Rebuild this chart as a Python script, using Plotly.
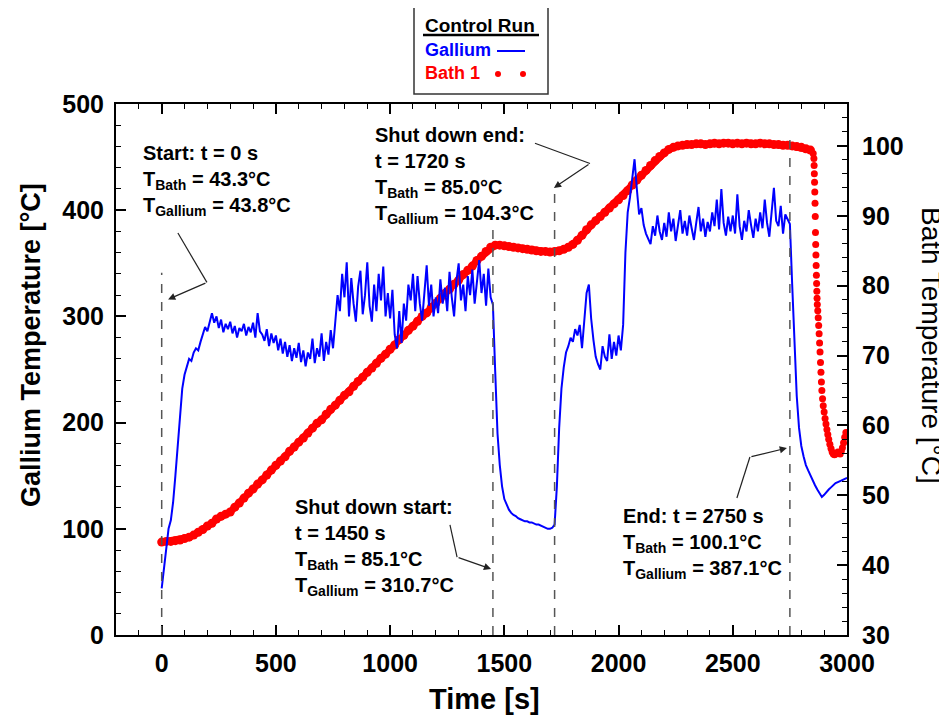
import plotly.graph_objects as go

# ---------------- data ----------------
gallium_time = list(range(0, 3001, 10))
gallium_temp = [
    43.8, 62, 85, 100, 108, 125, 150, 180, 210, 232,
    245, 252, 260, 258, 266, 270, 268, 276, 282, 290,
    286, 296, 303, 294, 300, 289, 297, 285, 293, 288,
    295, 284, 291, 280, 289, 286, 293, 282, 290, 285,
    294, 280, 303, 286, 283, 277, 288, 272, 284, 275,
    282, 268, 279, 265, 276, 262, 273, 258, 270, 261,
    275, 257, 268, 253, 266, 260, 279, 256, 270, 262,
    284, 258, 276, 264, 287, 270, 296, 320, 305, 340,
    318, 351, 300, 336, 312, 295, 328, 343, 302, 320,
    351, 310, 295, 330, 305, 340, 315, 347, 300, 322,
    298, 325, 283, 270, 305, 275, 312, 296, 330, 315,
    340, 305, 338, 312, 296, 322, 348, 310, 330, 300,
    318, 303, 335, 312, 327, 305, 342, 318, 300, 333,
    350, 315, 330, 305, 338, 320, 344, 312, 330, 353,
    322, 340, 310, 345, 318, 311, 248, 190, 160, 140,
    128, 122, 118, 115, 113, 112, 110, 109, 108, 107,
    107, 106, 106, 105, 104, 104, 103, 102, 101, 100,
    100, 101, 104, 140, 195, 232, 252, 266, 272, 280,
    276, 288, 282, 292, 270, 300, 322, 330, 298, 278,
    262, 255, 250, 272, 262, 258, 283, 260, 276, 263,
    282, 268, 292, 360, 398, 412, 430, 448, 420, 396,
    402, 386, 378, 372, 368, 385, 376, 395, 380, 372,
    388, 375, 398, 380, 392, 371, 386, 400, 378, 390,
    376, 395, 383, 372, 388, 403, 380, 392, 375, 389,
    380, 398, 385, 410, 382, 420, 388, 376, 394, 380,
    395, 378, 415, 385, 372, 390, 380, 400, 386, 374,
    392, 380, 398, 383, 410, 388, 375, 402, 421, 390,
    385, 404, 378, 396, 392, 387, 330, 270, 225, 195,
    178, 168, 160, 155, 150, 145, 141, 137, 133, 130,
    132, 135, 137, 139, 141, 143, 144, 145, 146, 147,
    148,
]

# bath: steady part (dense band) and the fast drop at the end (separate dots)
bath_time = list(range(0, 2841, 20))
bath_temp = [
    43.3, 43.4, 43.4, 43.5, 43.6, 43.8, 44.0, 44.3, 44.7, 45.1,
    45.6, 46.0, 46.6, 47.0, 47.3,
    47.6, 48.3, 48.9, 49.6, 50.3, 50.9, 51.6, 52.2, 52.9, 53.6,
    54.3, 54.9, 55.5, 56.3, 56.9, 57.6, 58.2, 58.9, 59.6, 60.3,
    60.8, 61.6, 62.3, 62.9, 63.6, 64.3, 64.8, 65.6, 66.3, 66.9,
    67.6, 68.2, 68.9, 69.6, 70.2, 70.9, 71.5, 72.3, 72.9, 73.6,
    74.2, 74.9, 75.6, 76.1, 76.9, 77.5, 78.2, 78.9, 79.5, 80.2,
    80.8, 81.6, 82.2, 82.8, 83.6, 84.2, 84.9, 85.5,
    85.8, 85.8, 85.7, 85.6, 85.5, 85.4, 85.3, 85.2, 85.1, 85.0,
    84.9, 84.9, 84.8, 84.9,
    85.0, 85.2, 85.5, 85.9, 86.5, 87.2, 88.0, 88.7, 89.3, 89.9,
    90.5, 91.1, 91.7, 92.3, 92.9, 93.6, 94.4, 95.1, 95.8, 96.5,
    97.2, 97.9, 98.5, 99.0, 99.5, 99.8,
    100.0, 100.1, 100.2, 100.2, 100.3, 100.3, 100.2, 100.3, 100.4, 100.3,
    100.4, 100.4, 100.3, 100.4, 100.3, 100.4, 100.3, 100.3, 100.4, 100.3,
    100.3, 100.2, 100.2, 100.1, 100.1, 100.0, 99.9, 99.8, 99.6, 99.4,
]
bath_drop_time = [
    2852, 2855, 2856, 2857, 2858, 2859, 2860, 2861, 2862, 2863,
    2864, 2865, 2866, 2867, 2868, 2869, 2870, 2872, 2874, 2876,
    2878, 2880, 2882, 2884, 2886, 2888, 2890, 2893, 2896, 2900,
    2904, 2908, 2912, 2916, 2920, 2925, 2930, 2935, 2940, 2945,
    2950, 2955, 2960, 2965, 2970, 2975, 2980, 2985, 2990, 2995,
    3000,
]
bath_drop_temp = [
    98.9, 98.2, 97.2, 96.0, 94.8, 93.4, 91.8, 89.9, 87.6, 85.9,
    84.4, 82.9, 81.5, 80.3, 79.2, 78.2, 77.3, 76.4, 75.4, 74.3,
    73.1, 71.8, 70.5, 69.0, 67.6, 66.2, 65.0, 63.8, 62.8, 61.9,
    61.0, 60.2, 59.4, 58.7, 58.0, 57.3, 56.7, 56.2, 55.9, 55.8,
    55.9, 56.0, 56.2, 56.1, 55.9, 56.3, 56.8, 57.5, 58.3, 59.0,
    58.6,
]

# event markers: time, top of dashed line (gallium axis units)
event_times = [0, 1450, 1720, 2750]
event_tops = [341, 383, 418, 471]

x_ticks = [0, 500, 1000, 1500, 2000, 2500, 3000]
gal_ticks = [0, 100, 200, 300, 400, 500]
bath_ticks = [30, 40, 50, 60, 70, 80, 90, 100]

FONT = "Liberation Sans, Arial, sans-serif"
BLUE = "#0000ff"
RED = "#ff0000"

fig = go.Figure()

# Bath on primary y (drawn underneath), Gallium on overlay y2 (drawn on top)
fig.add_trace(go.Scatter(
    x=bath_time, y=bath_temp, mode="lines+markers", yaxis="y",
    line=dict(color=RED, width=7), marker=dict(color=RED, size=9, line=dict(width=0)),
    name="Bath 1", showlegend=False))
fig.add_trace(go.Scatter(
    x=bath_drop_time, y=bath_drop_temp, mode="markers", yaxis="y",
    marker=dict(color=RED, size=7, line=dict(width=0)),
    name="Bath 1 drop", showlegend=False))
fig.add_trace(go.Scatter(
    x=gallium_time, y=gallium_temp, mode="lines", yaxis="y2",
    line=dict(color=BLUE, width=2),
    name="Gallium", showlegend=False))

tickfont = dict(family=FONT, size=25, color="black", weight="bold")

fig.update_layout(
    width=939, height=709,
    margin=dict(l=108, r=100, t=96, b=82),
    paper_bgcolor="white", plot_bgcolor="white",
    showlegend=False,
    xaxis=dict(
        range=[-200, 3000], tickvals=x_ticks, ticktext=[str(v) for v in x_ticks],
        ticks="inside", ticklen=10, tickwidth=1.5, tickcolor="black",
        minor=dict(ticks="inside", dtick=100, tick0=0, ticklen=5, tickwidth=1.2, tickcolor="black"),
        showline=True, linewidth=2, linecolor="black", mirror="ticks",
        showgrid=False, zeroline=False, tickfont=tickfont, ticklabelstandoff=5,
    ),
    yaxis=dict(
        range=[30, 106], tickvals=bath_ticks, side="right",
        ticks="inside", ticklen=10, tickwidth=1.5, tickcolor="black",
        minor=dict(ticks="inside", dtick=2, tick0=30, ticklen=5, tickwidth=1.2, tickcolor="black"),
        showline=True, linewidth=2, linecolor="black",
        showgrid=False, zeroline=False, tickfont=tickfont, ticklabelstandoff=8,
    ),
    yaxis2=dict(
        range=[0, 500], tickvals=gal_ticks, side="left", overlaying="y",
        ticks="inside", ticklen=10, tickwidth=1.5, tickcolor="black",
        minor=dict(ticks="inside", dtick=20, tick0=0, ticklen=5, tickwidth=1.2, tickcolor="black"),
        showline=True, linewidth=2, linecolor="black",
        showgrid=False, zeroline=False, tickfont=tickfont, ticklabelstandoff=5,
    ),
)

shapes = []
annotations = []

# dashed event lines
for t, top in zip(event_times, event_tops):
    shapes.append(dict(type="line", xref="x", yref="y2", x0=t, x1=t, y0=0, y1=top,
                       line=dict(color="#555555", width=1.5, dash="dash"), layer="above"))

# annotation text blocks
txt_font = dict(family=FONT, size=20, color="black", weight="bold")
blocks = [
    (-91, 466, "Start: t = 0 s<br>T<sub>Bath</sub> = 43.3°C<br>T<sub>Gallium</sub> = 43.8°C"),
    (925, 483, "Shut down end:<br>t = 1720 s<br>T<sub>Bath</sub> = 85.0°C<br>T<sub>Gallium</sub> = 104.3°C"),
    (575, 133, "Shut down start:<br>t = 1450 s<br>T<sub>Bath</sub> = 85.1°C<br>T<sub>Gallium</sub> = 310.7°C"),
    (2011, 124, "End: t = 2750 s<br>T<sub>Bath</sub> = 100.1°C<br>T<sub>Gallium</sub> = 387.1°C"),
]
for x, y, text in blocks:
    annotations.append(dict(x=x, y=y, xref="x", yref="y2", text=text, showarrow=False,
                            xanchor="left", yanchor="top", align="left", font=txt_font))

# bent arrows: start, bend, tip
arrows = [
    ((71, 378.5), (198, 332), (28, 316)),
    ((1634, 463), (1875, 444), (1717, 421)),
    ((1262, 103.6), (1293, 73.4), (1442, 62.1)),
    ((2518, 129), (2575, 167.6), (2737, 176)),
]
for (s, b, tip) in arrows:
    shapes.append(dict(type="line", xref="x", yref="y2", x0=s[0], y0=s[1], x1=b[0], y1=b[1],
                       line=dict(color="#222222", width=1.2), layer="above"))
    annotations.append(dict(x=tip[0], y=tip[1], xref="x", yref="y2", ax=b[0], ay=b[1],
                            axref="x", ayref="y2", text="", showarrow=True,
                            arrowhead=2, arrowsize=1.2, arrowwidth=1.2, arrowcolor="#222222",
                            standoff=0, startstandoff=0))


# screen-pixel helpers relative to the plot area (116..847 x, 104..635 y on screen)
def px_x(px):
    return (px - 116) / 731


def px_y(py):
    return (635 - py) / 531


# axis titles
annotations.append(dict(x=px_x(31), y=px_y(345), xref="paper", yref="paper",
                        text="Gallium Temperature [°C]",
                        textangle=-90, showarrow=False, xanchor="center", yanchor="middle",
                        font=dict(family=FONT, size=27, color="black", weight="bold")))
annotations.append(dict(x=px_x(932), y=px_y(345), xref="paper", yref="paper",
                        text="Bath Temperature [°C]",
                        textangle=90, showarrow=False, xanchor="center", yanchor="middle",
                        font=dict(family=FONT, size=28, color="black")))
annotations.append(dict(x=px_x(484), y=px_y(699), xref="paper", yref="paper", text="Time [s]",
                        showarrow=False, xanchor="center", yanchor="middle",
                        font=dict(family=FONT, size=29, color="black", weight="bold")))

# custom legend box
shapes.append(dict(type="rect", xref="paper", yref="paper",
                   x0=px_x(414), x1=px_x(548), y0=px_y(94), y1=px_y(4),
                   line=dict(color="#333333", width=1.5), fillcolor="white", layer="above"))
annotations.append(dict(x=px_x(423), y=px_y(25), xref="paper", yref="paper", text="Control Run",
                        showarrow=False, xanchor="left", yanchor="middle",
                        font=dict(family=FONT, size=19, color="black", weight="bold")))
shapes.append(dict(type="line", xref="paper", yref="paper", x0=px_x(423), x1=px_x(539),
                   y0=px_y(35), y1=px_y(35), line=dict(color="black", width=2.5), layer="above"))
annotations.append(dict(x=px_x(423), y=px_y(50), xref="paper", yref="paper", text="Gallium",
                        showarrow=False, xanchor="left", yanchor="middle",
                        font=dict(family=FONT, size=18, color=BLUE, weight="bold")))
shapes.append(dict(type="line", xref="paper", yref="paper", x0=px_x(497), x1=px_x(525),
                   y0=px_y(51), y1=px_y(51), line=dict(color=BLUE, width=2), layer="above"))
annotations.append(dict(x=px_x(423), y=px_y(73), xref="paper", yref="paper", text="Bath 1",
                        showarrow=False, xanchor="left", yanchor="middle",
                        font=dict(family=FONT, size=18, color=RED, weight="bold")))
for dx in (498, 523):
    shapes.append(dict(type="circle", xref="paper", yref="paper",
                       x0=px_x(dx - 3), x1=px_x(dx + 3), y0=px_y(77), y1=px_y(71),
                       fillcolor=RED, line=dict(width=0), layer="above"))

fig.update_layout(shapes=shapes, annotations=annotations)

fig.write_html("out.html")
